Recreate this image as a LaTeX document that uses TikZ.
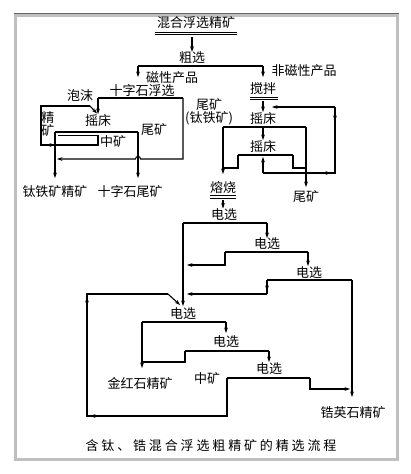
\documentclass[tikz,border=0pt]{standalone}
\usepackage{fontspec}
\newfontfamily\cjk{Noto Sans CJK SC}
\newfontfamily\cjkcap{Noto Sans CJK SC}[LetterSpace=22]
\usetikzlibrary{arrows.meta}
\begin{document}
\begin{tikzpicture}[x=1pt,y=-1pt,
  lbl/.style={font=\cjk\fontsize{13}{12.5}\selectfont, inner sep=0pt, align=center},
  ln/.style={line width=1.1pt},
  bar/.style={line width=1.5pt},
  uline/.style={line width=0.8pt},
  arr/.style={ln,-{Stealth[length=5.5pt,width=3.8pt]}}]
\useasboundingbox (0,0) rectangle (411,474);
% frame
\fill[white] (15,15) rectangle (397,459);
\draw[line width=3pt, gray!50] (15,15) rectangle (397,459);
\draw[line width=1.2pt, gray!80!black] (13.5,13.8) -- (398.5,13.8);

% ---- top
\node[lbl] (feed) at (196,23) {混合浮选精矿};
\draw[uline] (155,32) -- (237,32) (155,34.8) -- (237,34.8);
\node[lbl] (rough) at (192,58) {粗选};
\draw[arr] (192,37) -- (rough.north);
\coordinate (r1) at (138,66); \coordinate (r2) at (263,66);
\draw[bar] (r1) -- (r2);
\draw[arr] (r1) -- (138,77);
\draw[arr] (r2) -- (263,77);
\node[lbl] (mag) at (172,78) {磁性产品};
\node[lbl] (nonmag) at (304,71) {非磁性产品};

% ---- left branch
\node[lbl] (flot) at (142,91) {十字石浮选};
\coordinate (f1) at (98,98); \coordinate (f2) at (183,98);
\draw[bar] (f1) -- (f2);
\draw[arr] (f1) -- (98,114);
\node[lbl] (froth) at (80,96) {泡沫};
\node[lbl] (t1) at (98,121) {摇床};
\coordinate (s1) at (55,132); \coordinate (s2) at (138,132);
\draw[bar] (s1) -- (s2);
\node[lbl] (conc) at (48,124) {精\\矿};
\draw[ln] (58,135.5) -- (98,135.5) -- (98,145) -- (41,145) -- (41,106) -- (90,106);
\draw[arr] (90,106) -- (97,113.5);
\draw[arr] (62,145) -- (46,145);
\node[lbl] (mid1) at (113,142) {中矿};
\node[lbl] (tail1) at (154,130) {尾矿};
\draw[arr] (s1) -- (55,178);
\draw[arr] (s2) -- (138,178);
\node[lbl] (ilm) at (55,192) {钛铁矿精矿};
\node[lbl] (stau) at (130,192) {十字石尾矿};
\draw[arr] (f2) -- (183,159) -- (140.5,159)
   .. controls (140.5,155.5) and (135.5,155.5) .. (135.5,159) -- (57,159);
\node[lbl] (tail2) at (209,112) {尾矿\\(钛铁矿)};

% ---- right branch
\node[lbl] (stir) at (263,89) {搅拌};
\draw[uline] (250,97) -- (278,97) (250,99.8) -- (278,99.8);
\draw[arr] (263,101) -- (263,112);
\node[lbl] (t2) at (263,119) {摇床};
\coordinate (u1) at (223,127); \coordinate (u2) at (306,127);
\draw[bar] (u1) -- (u2);
\draw[arr] (u1) -- (223,174);
\draw[arr] (u2) -- (306,187);
\draw[arr] (263,127) -- (263,140);
\node[lbl] (t3) at (263,147) {摇床};
\coordinate (v1) at (238,155); \coordinate (v2) at (293,155);
\draw[bar] (v1) -- (v2);
\draw[ln] (v1) -- (238,168) -- (223,168);
\draw[ln] (v2) -- (293,168) -- (306,168);
\draw[arr] (263,173) -- (263,157);
\draw[ln] (263,173) -- (335,173) -- (335,107);
\draw[arr] (318,173) -- (331,173);
\draw[arr] (335,130) -- (335,112);
\draw[arr] (335,107) -- (272,107);
\node[lbl] (roast) at (223,188) {熔烧};
\draw[uline] (210,195.5) -- (236,195.5) (210,198.3) -- (236,198.3);
\node[lbl] (tail3) at (306,197) {尾矿};

% ---- electrostatic separation
\draw[arr] (223,200) -- (223,208.5);
\node[lbl] (e1) at (224,215) {电选};
\coordinate (a1) at (183,223); \coordinate (a2) at (267,223);
\draw[bar] (a1) -- (a2);
\draw[arr] (a2) -- (267,238);
\draw[arr] (a1) -- (183,306);
\node[lbl] (e2) at (267,244) {电选};
\coordinate (b1) at (225,252); \coordinate (b2) at (308,252);
\draw[bar] (b1) -- (b2);
\draw[arr] (b2) -- (308,266);
\draw[arr] (b1) -- (225,265) -- (187,265);
\node[lbl] (e3) at (309,273) {电选};
\coordinate (c1) at (267,280); \coordinate (c2) at (352,280);
\draw[bar] (c1) -- (c2);
\draw[ln] (c1) -- (267,294);
\draw[arr] (c1) -- (267,291);
\draw[arr] (267,294) -- (187,294);
\draw[arr] (c2) -- (352,397);
\node[lbl] (zr) at (353,413) {锆英石精矿};

\node[lbl] (e4) at (183,314) {电选};
\coordinate (d1) at (142,322); \coordinate (d2) at (226,322);
\draw[bar] (d1) -- (d2);
\draw[arr] (d2) -- (226,333);
\draw[arr] (d1) -- (142,368);
\node[lbl] (rut) at (140,383) {金红石精矿};
\node[lbl] (e5) at (226,342) {电选};
\coordinate (g1) at (185,351); \coordinate (g2) at (269,351);
\draw[bar] (g1) -- (g2);
\draw[arr] (g2) -- (269,362);
\draw[ln] (g1) -- (185,362) -- (142,362);
\node[lbl] (e6) at (269,369) {电选};
\coordinate (h1) at (227,378); \coordinate (h2) at (310,378);
\draw[bar] (h1) -- (h2);
\draw[arr] (h2) -- (310,389) -- (350,389);
\node[lbl] (mid2) at (207,379) {中矿};
\draw[ln] (h1) -- (227,416) -- (87,416) -- (87,294) -- (168,294);
\draw[arr] (168,294) -- (180,305);
\draw[arr] (104,416) -- (90,416);
\draw[arr] (87,312) -- (87,297);

\node[font=\cjkcap\fontsize{13}{13}\selectfont, inner sep=0pt] (cap) at (211,446) {含钛、锆混合浮选粗精矿的精选流程};
\end{tikzpicture}
\end{document}
